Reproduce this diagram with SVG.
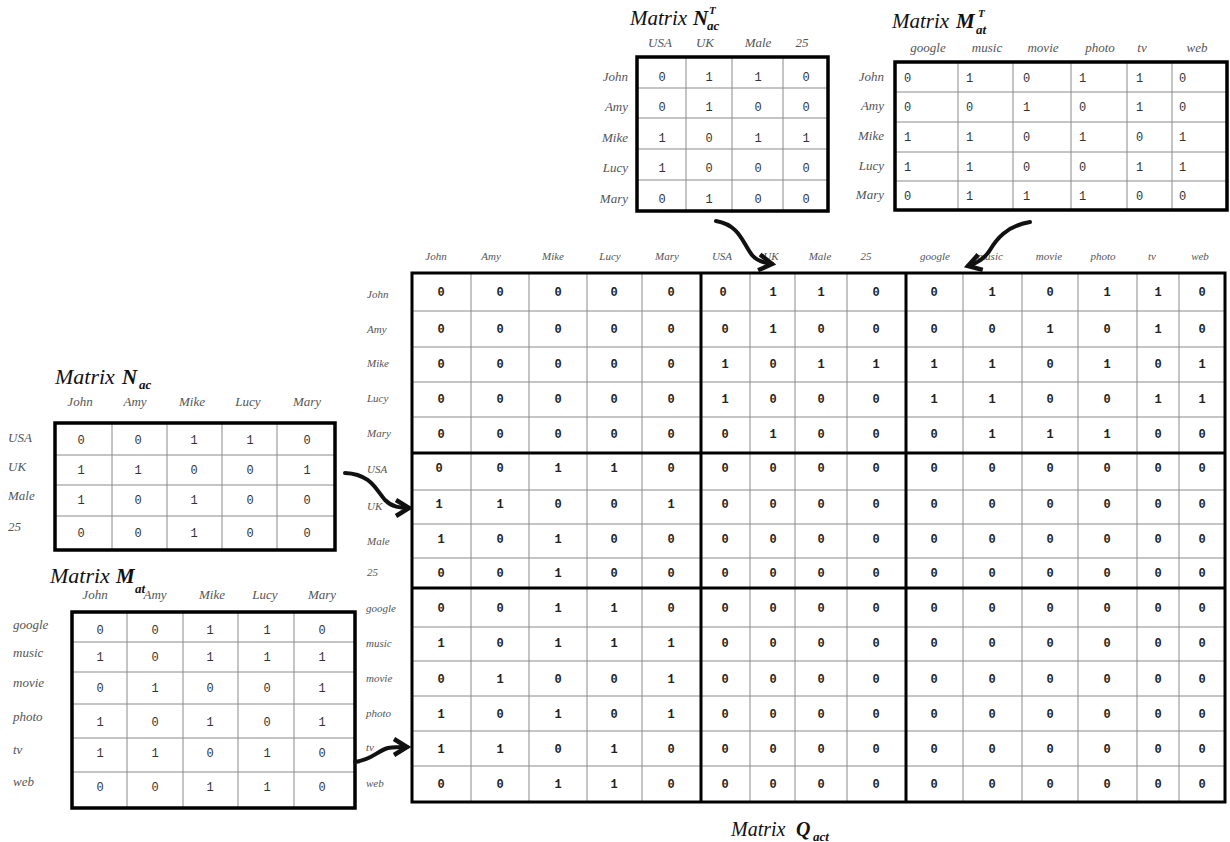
<svg xmlns="http://www.w3.org/2000/svg" width="1230" height="842" viewBox="0 0 1230 842">
<style>
.bg{fill:#fff}
.grid{stroke:#8a8a8a;stroke-width:1;fill:none}
.border{stroke:#000;stroke-width:3.5;fill:none}
.thick{stroke:#000;stroke-width:3;fill:none}
.lbl{font-family:"Liberation Serif",serif;font-style:italic;fill:#555}
.lq{font-size:11px}
.ls{font-size:13px}
.val{font-family:"Liberation Mono",monospace;font-size:12px;fill:#333;text-anchor:middle}
.vl{font-family:"Liberation Mono",monospace;font-size:12px;fill:#333}
.qv{font-family:"Liberation Mono",monospace;font-size:12px;font-weight:bold;fill:#222;text-anchor:middle}
.ttl{font-family:"Liberation Serif",serif;font-style:italic;font-size:21px;fill:#111}
.sym{font-family:"Liberation Serif",serif;font-style:italic;font-weight:bold;font-size:21px;fill:#111}
.sub{font-family:"Liberation Serif",serif;font-style:italic;font-weight:bold;font-size:13px;fill:#111}
.sup{font-family:"Liberation Serif",serif;font-style:italic;font-weight:bold;font-size:11px;fill:#111}
.arr{stroke:#111;stroke-width:4;fill:none;stroke-linecap:round}
</style>
<defs>
<marker id="chev" markerUnits="userSpaceOnUse" markerWidth="24" markerHeight="24" refX="15" refY="9" orient="auto" overflow="visible">
<path d="M2,1 L15,9 L2,17" fill="none" stroke="#111" stroke-width="4.5" stroke-linejoin="miter"/>
</marker>
</defs>
<rect class="bg" x="0" y="0" width="1230" height="842"/>

<g id="matrix-NacT">
<text class="ttl" x="630" y="25">Matrix</text>
<text class="sym" x="693" y="25">N</text>
<text class="sup" x="709" y="14">T</text>
<text class="sub" x="707" y="30">ac</text>
<g class="lbl ls" text-anchor="middle">
<text x="660" y="47">USA</text><text x="705" y="47">UK</text><text x="758" y="47">Male</text><text x="802" y="47">25</text>
</g>
<g class="lbl ls" text-anchor="end">
<text x="628" y="81">John</text><text x="628" y="111">Amy</text><text x="628" y="142">Mike</text><text x="628" y="172">Lucy</text><text x="628" y="203">Mary</text>
</g>
<path class="grid" d="M686,57V211M732,57V211M783,57V211M637,88H828M637,118H828M637,149H828M637,180H828"/>
<rect class="border" x="637" y="57" width="191" height="154"/>
<text class="val" y="81"><tspan x="662">0</tspan><tspan x="709">1</tspan><tspan x="758">1</tspan><tspan x="806">0</tspan></text>
<text class="val" y="111"><tspan x="662">0</tspan><tspan x="709">1</tspan><tspan x="758">0</tspan><tspan x="806">0</tspan></text>
<text class="val" y="142"><tspan x="662">1</tspan><tspan x="709">0</tspan><tspan x="758">1</tspan><tspan x="806">1</tspan></text>
<text class="val" y="172"><tspan x="662">1</tspan><tspan x="709">0</tspan><tspan x="758">0</tspan><tspan x="806">0</tspan></text>
<text class="val" y="203"><tspan x="662">0</tspan><tspan x="709">1</tspan><tspan x="758">0</tspan><tspan x="806">0</tspan></text>
</g>

<g id="matrix-MatT">
<text class="ttl" x="892" y="28">Matrix</text>
<text class="sym" x="956" y="28">M</text>
<text class="sup" x="978" y="17">T</text>
<text class="sub" x="976" y="34">at</text>
<g class="lbl ls" text-anchor="middle">
<text x="928" y="52">google</text><text x="987" y="52">music</text><text x="1043" y="52">movie</text><text x="1100" y="52">photo</text><text x="1142" y="52">tv</text><text x="1197" y="52">web</text>
</g>
<g class="lbl ls" text-anchor="end">
<text x="884" y="81">John</text><text x="884" y="110">Amy</text><text x="884" y="140">Mike</text><text x="884" y="170">Lucy</text><text x="884" y="199">Mary</text>
</g>
<path class="grid" d="M958,62V210M1013,62V210M1071,62V210M1127,62V210M1172,62V210M895,92H1228M895,122H1228M895,152H1228M895,181H1228"/>
<rect class="border" x="895" y="62" width="332" height="148"/>
<text class="vl" y="82"><tspan x="904">0</tspan><tspan x="966">1</tspan><tspan x="1023">0</tspan><tspan x="1079">1</tspan><tspan x="1136">1</tspan><tspan x="1179">0</tspan></text>
<text class="vl" y="111"><tspan x="904">0</tspan><tspan x="966">0</tspan><tspan x="1023">1</tspan><tspan x="1079">0</tspan><tspan x="1136">1</tspan><tspan x="1179">0</tspan></text>
<text class="vl" y="141"><tspan x="904">1</tspan><tspan x="966">1</tspan><tspan x="1023">0</tspan><tspan x="1079">1</tspan><tspan x="1136">0</tspan><tspan x="1179">1</tspan></text>
<text class="vl" y="171"><tspan x="904">1</tspan><tspan x="966">1</tspan><tspan x="1023">0</tspan><tspan x="1079">0</tspan><tspan x="1136">1</tspan><tspan x="1179">1</tspan></text>
<text class="vl" y="200"><tspan x="904">0</tspan><tspan x="966">1</tspan><tspan x="1023">1</tspan><tspan x="1079">1</tspan><tspan x="1136">0</tspan><tspan x="1179">0</tspan></text>
</g>

<g id="matrix-Nac">
<text class="ttl" x="55" y="384" style="font-size:22px">Matrix</text>
<text class="sym" x="122" y="384">N</text>
<text class="sub" x="139" y="389">ac</text>
<g class="lbl ls" text-anchor="middle">
<text x="80" y="406">John</text><text x="135" y="406">Amy</text><text x="192" y="406">Mike</text><text x="248" y="406">Lucy</text><text x="307" y="406">Mary</text>
</g>
<g class="lbl ls">
<text x="8" y="442">USA</text><text x="8" y="471">UK</text><text x="8" y="500">Male</text><text x="8" y="531">25</text>
</g>
<path class="grid" d="M112,423V550M167,423V550M222,423V550M277,423V550M55,455H335M55,485H335M55,516H335"/>
<rect class="border" x="55" y="423" width="280" height="127"/>
<text class="val" y="444"><tspan x="81">0</tspan><tspan x="138">0</tspan><tspan x="194">1</tspan><tspan x="250">1</tspan><tspan x="307">0</tspan></text>
<text class="val" y="474"><tspan x="81">1</tspan><tspan x="138">1</tspan><tspan x="194">0</tspan><tspan x="250">0</tspan><tspan x="307">1</tspan></text>
<text class="val" y="504"><tspan x="81">1</tspan><tspan x="138">0</tspan><tspan x="194">1</tspan><tspan x="250">0</tspan><tspan x="307">0</tspan></text>
<text class="val" y="537"><tspan x="81">0</tspan><tspan x="138">0</tspan><tspan x="194">1</tspan><tspan x="250">0</tspan><tspan x="307">0</tspan></text>
</g>

<g id="matrix-Mat">
<text class="ttl" x="50" y="583" style="font-size:22px">Matrix</text>
<text class="sym" x="116" y="583">M</text>
<text class="sub" x="135" y="593">at</text>
<g class="lbl ls" text-anchor="middle">
<text x="95" y="599">John</text><text x="155" y="599">Amy</text><text x="212" y="599">Mike</text><text x="265" y="599">Lucy</text><text x="322" y="599">Mary</text>
</g>
<g class="lbl ls">
<text x="13" y="629">google</text><text x="13" y="657">music</text><text x="13" y="687">movie</text><text x="13" y="721">photo</text><text x="13" y="754">tv</text><text x="13" y="786">web</text>
</g>
<path class="grid" d="M127,612V808M183,612V808M238,612V808M294,612V808M72,642H355M72,672H355M72,704H355M72,738H355M72,772H355"/>
<rect class="border" x="72" y="612" width="283" height="196"/>
<text class="val" y="634"><tspan x="100">0</tspan><tspan x="155">0</tspan><tspan x="210">1</tspan><tspan x="267">1</tspan><tspan x="322">0</tspan></text>
<text class="val" y="661"><tspan x="100">1</tspan><tspan x="155">0</tspan><tspan x="210">1</tspan><tspan x="267">1</tspan><tspan x="322">1</tspan></text>
<text class="val" y="692"><tspan x="100">0</tspan><tspan x="155">1</tspan><tspan x="210">0</tspan><tspan x="267">0</tspan><tspan x="322">1</tspan></text>
<text class="val" y="726"><tspan x="100">1</tspan><tspan x="155">0</tspan><tspan x="210">1</tspan><tspan x="267">0</tspan><tspan x="322">1</tspan></text>
<text class="val" y="757"><tspan x="100">1</tspan><tspan x="155">1</tspan><tspan x="210">0</tspan><tspan x="267">1</tspan><tspan x="322">0</tspan></text>
<text class="val" y="791"><tspan x="100">0</tspan><tspan x="155">0</tspan><tspan x="210">1</tspan><tspan x="267">1</tspan><tspan x="322">0</tspan></text>
</g>

<g id="matrix-Qact">
<g class="lbl lq" text-anchor="middle">
<text x="436" y="260">John</text><text x="491" y="260">Amy</text><text x="553" y="260">Mike</text><text x="610" y="260">Lucy</text><text x="667" y="260">Mary</text>
<text x="722" y="260">USA</text><text x="771" y="260">UK</text><text x="820" y="260">Male</text><text x="866" y="260">25</text>
<text x="935" y="260">google</text><text x="990" y="260">music</text><text x="1049" y="260">movie</text><text x="1103" y="260">photo</text><text x="1152" y="260">tv</text><text x="1200" y="260">web</text>
</g>
<g class="lbl lq">
<text x="367" y="298">John</text><text x="367" y="333">Amy</text><text x="367" y="367">Mike</text><text x="367" y="402">Lucy</text><text x="367" y="437">Mary</text>
<text x="367" y="473">USA</text><text x="367" y="510">UK</text><text x="367" y="545">Male</text><text x="367" y="576">25</text>
<text x="366" y="612">google</text><text x="366" y="647">music</text><text x="366" y="682">movie</text><text x="366" y="717">photo</text><text x="366" y="751">tv</text><text x="366" y="787">web</text>
</g>
<path class="grid" d="M471,273V802M529,273V802M587,273V802M642,273V802M750,273V802M795,273V802M847,273V802M963,273V802M1022,273V802M1078,273V802M1137,273V802M1179,273V802M412,311H1225M412,347H1225M412,382H1225M412,417H1225M412,490H1225M412,524H1225M412,558H1225M412,627H1225M412,661H1225M412,696H1225M412,731H1225M412,766H1225"/>
<path class="thick" d="M701,273V802M906,273V802M412,453H1225M412,588H1225"/>
<rect class="thick" x="412" y="273" width="813" height="529"/>
<text class="qv" y="296"><tspan x="441">0</tspan><tspan x="500">0</tspan><tspan x="558">0</tspan><tspan x="614">0</tspan><tspan x="671">0</tspan><tspan x="723">0</tspan><tspan x="773">1</tspan><tspan x="821">1</tspan><tspan x="876">0</tspan><tspan x="934">0</tspan><tspan x="992">1</tspan><tspan x="1050">0</tspan><tspan x="1107">1</tspan><tspan x="1158">1</tspan><tspan x="1202">0</tspan></text>
<text class="qv" y="333"><tspan x="441">0</tspan><tspan x="500">0</tspan><tspan x="558">0</tspan><tspan x="614">0</tspan><tspan x="671">0</tspan><tspan x="725">0</tspan><tspan x="773">1</tspan><tspan x="821">0</tspan><tspan x="876">0</tspan><tspan x="934">0</tspan><tspan x="992">0</tspan><tspan x="1050">1</tspan><tspan x="1107">0</tspan><tspan x="1158">1</tspan><tspan x="1202">0</tspan></text>
<text class="qv" y="368"><tspan x="441">0</tspan><tspan x="500">0</tspan><tspan x="558">0</tspan><tspan x="614">0</tspan><tspan x="671">0</tspan><tspan x="725">1</tspan><tspan x="773">0</tspan><tspan x="821">1</tspan><tspan x="876">1</tspan><tspan x="934">1</tspan><tspan x="992">1</tspan><tspan x="1050">0</tspan><tspan x="1107">1</tspan><tspan x="1158">0</tspan><tspan x="1202">1</tspan></text>
<text class="qv" y="403"><tspan x="441">0</tspan><tspan x="500">0</tspan><tspan x="558">0</tspan><tspan x="614">0</tspan><tspan x="671">0</tspan><tspan x="725">1</tspan><tspan x="773">0</tspan><tspan x="821">0</tspan><tspan x="876">0</tspan><tspan x="934">1</tspan><tspan x="992">1</tspan><tspan x="1050">0</tspan><tspan x="1107">0</tspan><tspan x="1158">1</tspan><tspan x="1202">1</tspan></text>
<text class="qv" y="438"><tspan x="441">0</tspan><tspan x="500">0</tspan><tspan x="558">0</tspan><tspan x="614">0</tspan><tspan x="671">0</tspan><tspan x="725">0</tspan><tspan x="773">1</tspan><tspan x="821">0</tspan><tspan x="876">0</tspan><tspan x="934">0</tspan><tspan x="992">1</tspan><tspan x="1050">1</tspan><tspan x="1107">1</tspan><tspan x="1158">0</tspan><tspan x="1202">0</tspan></text>
<text class="qv" y="472"><tspan x="439">0</tspan><tspan x="500">0</tspan><tspan x="558">1</tspan><tspan x="614">1</tspan><tspan x="671">0</tspan><tspan x="725">0</tspan><tspan x="773">0</tspan><tspan x="821">0</tspan><tspan x="876">0</tspan><tspan x="934">0</tspan><tspan x="992">0</tspan><tspan x="1050">0</tspan><tspan x="1107">0</tspan><tspan x="1158">0</tspan><tspan x="1202">0</tspan></text>
<text class="qv" y="508"><tspan x="439">1</tspan><tspan x="500">1</tspan><tspan x="558">0</tspan><tspan x="614">0</tspan><tspan x="671">1</tspan><tspan x="725">0</tspan><tspan x="773">0</tspan><tspan x="821">0</tspan><tspan x="876">0</tspan><tspan x="934">0</tspan><tspan x="992">0</tspan><tspan x="1050">0</tspan><tspan x="1107">0</tspan><tspan x="1158">0</tspan><tspan x="1202">0</tspan></text>
<text class="qv" y="543"><tspan x="441">1</tspan><tspan x="500">0</tspan><tspan x="558">1</tspan><tspan x="614">0</tspan><tspan x="671">0</tspan><tspan x="725">0</tspan><tspan x="773">0</tspan><tspan x="821">0</tspan><tspan x="876">0</tspan><tspan x="934">0</tspan><tspan x="992">0</tspan><tspan x="1050">0</tspan><tspan x="1107">0</tspan><tspan x="1158">0</tspan><tspan x="1202">0</tspan></text>
<text class="qv" y="577"><tspan x="441">0</tspan><tspan x="500">0</tspan><tspan x="558">1</tspan><tspan x="614">0</tspan><tspan x="671">0</tspan><tspan x="725">0</tspan><tspan x="773">0</tspan><tspan x="821">0</tspan><tspan x="876">0</tspan><tspan x="934">0</tspan><tspan x="992">0</tspan><tspan x="1050">0</tspan><tspan x="1107">0</tspan><tspan x="1158">0</tspan><tspan x="1202">0</tspan></text>
<text class="qv" y="612"><tspan x="441">0</tspan><tspan x="500">0</tspan><tspan x="558">1</tspan><tspan x="614">1</tspan><tspan x="671">0</tspan><tspan x="725">0</tspan><tspan x="773">0</tspan><tspan x="821">0</tspan><tspan x="876">0</tspan><tspan x="934">0</tspan><tspan x="992">0</tspan><tspan x="1050">0</tspan><tspan x="1107">0</tspan><tspan x="1158">0</tspan><tspan x="1202">0</tspan></text>
<text class="qv" y="647"><tspan x="441">1</tspan><tspan x="500">0</tspan><tspan x="558">1</tspan><tspan x="614">1</tspan><tspan x="671">1</tspan><tspan x="725">0</tspan><tspan x="773">0</tspan><tspan x="821">0</tspan><tspan x="876">0</tspan><tspan x="934">0</tspan><tspan x="992">0</tspan><tspan x="1050">0</tspan><tspan x="1107">0</tspan><tspan x="1158">0</tspan><tspan x="1202">0</tspan></text>
<text class="qv" y="683"><tspan x="441">0</tspan><tspan x="500">1</tspan><tspan x="558">0</tspan><tspan x="614">0</tspan><tspan x="671">1</tspan><tspan x="725">0</tspan><tspan x="773">0</tspan><tspan x="821">0</tspan><tspan x="876">0</tspan><tspan x="934">0</tspan><tspan x="992">0</tspan><tspan x="1050">0</tspan><tspan x="1107">0</tspan><tspan x="1158">0</tspan><tspan x="1202">0</tspan></text>
<text class="qv" y="718"><tspan x="441">1</tspan><tspan x="500">0</tspan><tspan x="558">1</tspan><tspan x="614">0</tspan><tspan x="671">1</tspan><tspan x="725">0</tspan><tspan x="773">0</tspan><tspan x="821">0</tspan><tspan x="876">0</tspan><tspan x="934">0</tspan><tspan x="992">0</tspan><tspan x="1050">0</tspan><tspan x="1107">0</tspan><tspan x="1158">0</tspan><tspan x="1202">0</tspan></text>
<text class="qv" y="753"><tspan x="441">1</tspan><tspan x="500">1</tspan><tspan x="558">0</tspan><tspan x="614">1</tspan><tspan x="671">0</tspan><tspan x="725">0</tspan><tspan x="773">0</tspan><tspan x="821">0</tspan><tspan x="876">0</tspan><tspan x="934">0</tspan><tspan x="992">0</tspan><tspan x="1050">0</tspan><tspan x="1107">0</tspan><tspan x="1158">0</tspan><tspan x="1202">0</tspan></text>
<text class="qv" y="788"><tspan x="441">0</tspan><tspan x="500">0</tspan><tspan x="558">1</tspan><tspan x="614">1</tspan><tspan x="671">0</tspan><tspan x="725">0</tspan><tspan x="773">0</tspan><tspan x="821">0</tspan><tspan x="876">0</tspan><tspan x="934">0</tspan><tspan x="992">0</tspan><tspan x="1050">0</tspan><tspan x="1107">0</tspan><tspan x="1158">0</tspan><tspan x="1202">0</tspan></text>
<text class="ttl" x="731" y="836" style="font-size:20px">Matrix</text>
<text class="sym" x="796" y="836" style="font-size:20px">Q</text>
<text class="sub" x="813" y="841">act</text>
</g>

<g id="connectors">
<path class="arr" marker-end="url(#chev)" d="M716,221 C740,225 743,244 752,255 C757,261 764,263 772,264"/>
<path class="arr" marker-end="url(#chev)" d="M1030,222 C1006,226 996,240 990,250 C985,258 978,263 968,266"/>
<path class="arr" marker-end="url(#chev)" d="M345,473 C371,474 376,490 385,500 C392,507 400,508 409,508"/>
<path class="arr" marker-end="url(#chev)" d="M355,762 C372,760 377,751 388,748 C395,747 401,747 407,747"/>
</g>
</svg>
